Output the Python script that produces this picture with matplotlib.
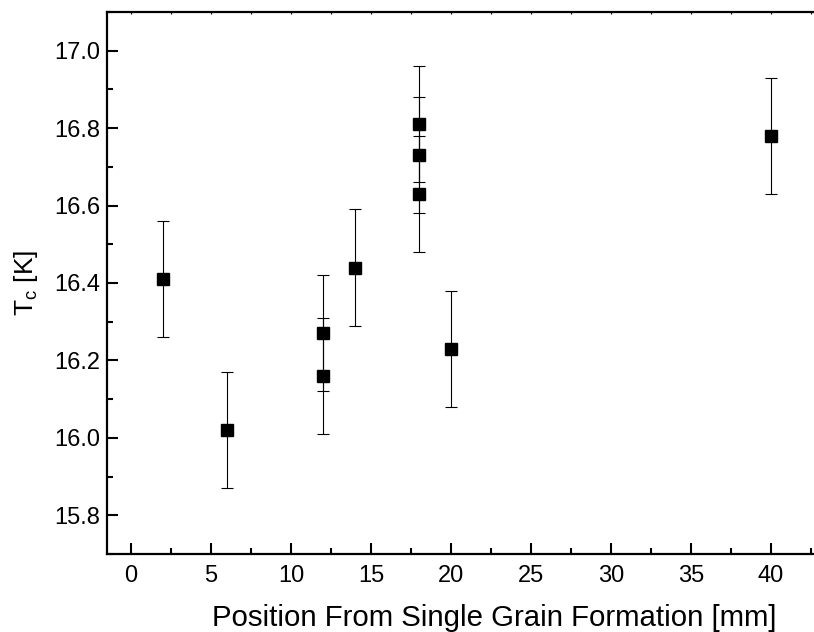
import numpy as np
import matplotlib.pyplot as plt
from matplotlib.ticker import MultipleLocator

# data
position = [2, 6, 12, 12, 14, 18, 18, 18, 20, 40]
tc = [16.41, 16.02, 16.27, 16.16, 16.44, 16.81, 16.73, 16.63, 16.23, 16.78]
tc_err = [0.15, 0.15, 0.15, 0.15, 0.15, 0.15, 0.15, 0.15, 0.15, 0.15]
x_ticks = [0, 5, 10, 15, 20, 25, 30, 35, 40]

plt.rcParams['font.family'] = ['Liberation Sans', 'DejaVu Sans']

fig = plt.figure(figsize=(8.14, 6.32), dpi=100)
# the axes runs past the right edge of the figure, as in the reference
ax = fig.add_axes([107 / 814, 78 / 632, (881 - 107) / 814, (554 - 12) / 632])

ax.errorbar(position, tc, yerr=tc_err, fmt='s', color='black', ecolor='black',
            markersize=8.4, elinewidth=0.8, capsize=4.3, capthick=0.8)

ax.set_xlim(-1.5, 46.875)
ax.set_ylim(15.7, 17.1)
ax.set_xticks(x_ticks)
ax.xaxis.set_minor_locator(MultipleLocator(2.5))
ax.yaxis.set_major_locator(MultipleLocator(0.2))
ax.yaxis.set_minor_locator(MultipleLocator(0.1))

ax.spines['right'].set_visible(False)
for s in ['left', 'bottom', 'top']:
    ax.spines[s].set_linewidth(1.6)

ax.tick_params(which='major', direction='in', length=8, width=1.5, labelsize=17, pad=5)
ax.tick_params(which='minor', direction='in', length=4.5, width=1.5)
ax.tick_params(which='both', top=True, right=False)
ax.tick_params(axis='x', which='major', pad=8)
for t in ax.xaxis.get_ticklines(minor=False)[1::2] + ax.xaxis.get_ticklines(minor=True)[1::2]:
    t.set_markersize(1.5)
    t.set_markeredgewidth(0.8)
    t.set_color('#999999')

ax.set_yticklabels([f'{v:.1f}' for v in ax.get_yticks()])
ax.set_xlabel('Position From Single Grain Formation [mm]', fontsize=21.2, labelpad=12)
ax.set_ylabel(r'T$_\mathregular{c}$ [K]', fontsize=19, labelpad=10)

fig.savefig('out.png', dpi=100)
